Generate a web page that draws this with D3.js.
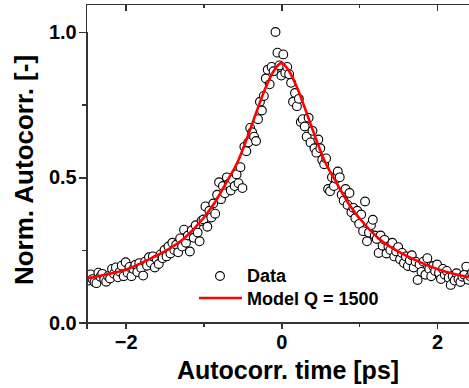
<!DOCTYPE html>
<html>
<head>
<meta charset="utf-8">
<title>Autocorrelation</title>
<script src="https://cdnjs.cloudflare.com/ajax/libs/d3/7.8.5/d3.min.js"></script>
<style>
  body { margin: 0; background: #fff; }
  svg { display: block; font-family: "Liberation Sans", Arial, sans-serif; font-weight: bold; }
  .axis path, .axis line { stroke: #333; stroke-width: 1.5px; shape-rendering: crispEdges; }
  .axis text { font-size: 20px; font-weight: bold; fill: #000; }
</style>
</head>
<body>
<script>
// measured points (time in ps, normalized autocorrelation)
var dataPoints = [
  [-2.500,0.160],[-2.475,0.145],[-2.450,0.166],[-2.425,0.150],[-2.400,0.140],
  [-2.375,0.136],[-2.350,0.172],[-2.325,0.158],[-2.300,0.168],[-2.275,0.149],
  [-2.250,0.141],[-2.225,0.160],[-2.200,0.152],[-2.175,0.185],[-2.150,0.168],
  [-2.125,0.190],[-2.100,0.156],[-2.075,0.175],[-2.050,0.196],[-2.025,0.160],
  [-2.000,0.208],[-1.975,0.172],[-1.950,0.192],[-1.925,0.160],[-1.900,0.185],
  [-1.875,0.199],[-1.850,0.174],[-1.825,0.205],[-1.800,0.188],[-1.775,0.162],
  [-1.750,0.210],[-1.725,0.196],[-1.700,0.225],[-1.675,0.205],[-1.650,0.228],
  [-1.625,0.190],[-1.600,0.218],[-1.575,0.202],[-1.550,0.235],[-1.525,0.222],
  [-1.500,0.250],[-1.475,0.228],[-1.450,0.262],[-1.425,0.238],[-1.400,0.275],
  [-1.375,0.250],[-1.350,0.268],[-1.325,0.242],[-1.300,0.290],[-1.275,0.262],
  [-1.250,0.320],[-1.225,0.275],[-1.200,0.300],[-1.175,0.245],[-1.150,0.318],
  [-1.125,0.292],[-1.100,0.335],[-1.075,0.310],[-1.050,0.280],[-1.025,0.350],
  [-1.000,0.355],[-0.975,0.400],[-0.950,0.330],[-0.925,0.385],[-0.900,0.362],
  [-0.875,0.410],[-0.850,0.375],[-0.825,0.440],[-0.800,0.483],[-0.775,0.425],
  [-0.750,0.470],[-0.725,0.445],[-0.700,0.500],[-0.675,0.478],[-0.650,0.455],
  [-0.625,0.492],[-0.600,0.470],[-0.575,0.510],[-0.550,0.480],[-0.525,0.535],
  [-0.500,0.463],[-0.475,0.605],[-0.450,0.590],[-0.425,0.620],[-0.400,0.670],
  [-0.375,0.655],[-0.350,0.640],[-0.325,0.625],[-0.300,0.700],[-0.275,0.760],
  [-0.250,0.730],[-0.225,0.780],[-0.200,0.840],[-0.175,0.870],[-0.150,0.820],
  [-0.125,0.880],[-0.100,0.865],[-0.075,1.000],[-0.050,0.929],[-0.025,0.885],
  [0.000,0.850],[0.025,0.923],[0.050,0.860],[0.075,0.880],[0.100,0.855],
  [0.125,0.825],[0.150,0.760],[0.175,0.790],[0.200,0.745],[0.225,0.770],
  [0.250,0.690],[0.275,0.700],[0.300,0.675],[0.325,0.640],[0.350,0.705],
  [0.375,0.620],[0.400,0.660],[0.425,0.600],[0.450,0.585],[0.475,0.630],
  [0.500,0.600],[0.525,0.560],[0.550,0.545],[0.575,0.565],[0.600,0.460],
  [0.625,0.452],[0.650,0.500],[0.675,0.470],[0.700,0.495],[0.725,0.520],
  [0.750,0.500],[0.775,0.440],[0.800,0.420],[0.825,0.460],[0.850,0.405],
  [0.875,0.446],[0.900,0.380],[0.925,0.395],[0.950,0.360],[0.975,0.385],
  [1.000,0.340],[1.025,0.372],[1.050,0.315],[1.075,0.417],[1.100,0.280],
  [1.125,0.310],[1.150,0.335],[1.175,0.354],[1.200,0.300],[1.225,0.288],
  [1.250,0.240],[1.275,0.300],[1.300,0.265],[1.325,0.285],[1.350,0.238],
  [1.375,0.262],[1.400,0.250],[1.425,0.275],[1.450,0.228],[1.475,0.245],
  [1.500,0.260],[1.525,0.218],[1.550,0.240],[1.575,0.205],[1.600,0.228],
  [1.625,0.195],[1.650,0.215],[1.675,0.232],[1.700,0.190],[1.725,0.210],
  [1.750,0.147],[1.775,0.200],[1.800,0.175],[1.825,0.210],[1.850,0.165],
  [1.875,0.222],[1.900,0.185],[1.925,0.160],[1.950,0.195],[1.975,0.178],
  [2.000,0.200],[2.025,0.172],[2.050,0.150],[2.075,0.185],[2.100,0.165],
  [2.125,0.178],[2.150,0.155],[2.175,0.130],[2.200,0.160],[2.225,0.145],
  [2.250,0.170],[2.275,0.150],[2.300,0.140],[2.325,0.158],[2.350,0.165],
  [2.375,0.193],[2.400,0.148],[2.425,0.160],[2.450,0.172]
];

// model curve
var modelT = [-2.5,-2.25,-2.0,-1.75,-1.5,-1.25,-1.0,-0.85,-0.7,-0.55,-0.4,-0.3,-0.2,-0.1,0,
              0.1,0.2,0.3,0.4,0.55,0.7,0.85,1.0,1.25,1.5,1.75,2.0,2.25,2.5];
var modelV = [0.153,0.166,0.182,0.212,0.245,0.29,0.36,0.415,0.485,0.56,0.665,0.74,0.81,0.865,0.893,
              0.865,0.81,0.74,0.665,0.56,0.485,0.415,0.36,0.29,0.245,0.212,0.185,0.166,0.152];

var xMajor = [-2, 0, 2], xMinor = [-1, 1];
var yMajor = [0, 0.5, 1.0], yMinor = [0.25, 0.75];
var legendLabels = ["Data", "Model Q = 1500"];

var W = 469, H = 388;
var pLeft = 86.7, pRight = 476, pTop = 4, pBottom = 322.7;

var svg = d3.select("body").append("svg")
    .attr("width", W)
    .attr("height", H);

var x = d3.scaleLinear().domain([-2.5, 2.5]).range([pLeft, pRight]);
var y = d3.scaleLinear().domain([0, 1.0]).range([pBottom, pBottom - 290.7]);

svg.append("clipPath").attr("id", "plotclip")
  .append("rect")
    .attr("x", pLeft).attr("y", pTop)
    .attr("width", pRight - pLeft).attr("height", pBottom - pTop);

var plot = svg.append("g").attr("clip-path", "url(#plotclip)");

plot.selectAll("circle.pt")
  .data(dataPoints)
  .enter().append("circle")
    .attr("class", "pt")
    .attr("cx", function(d) { return x(d[0]); })
    .attr("cy", function(d) { return y(d[1]); })
    .attr("r", 4.4)
    .attr("fill", "#fff")
    .attr("stroke", "#000")
    .attr("stroke-width", 1.1);

var line = d3.line()
    .x(function(d, i) { return x(modelT[i]); })
    .y(function(d) { return y(d); })
    .curve(d3.curveMonotoneX);

plot.append("path")
    .attr("d", line(modelV))
    .attr("fill", "none")
    .attr("stroke", "#ff0000")
    .attr("stroke-width", 2.6);

// axes
svg.append("g").attr("class", "axis")
    .attr("transform", "translate(0," + pBottom + ")")
    .call(d3.axisBottom(x).tickValues(xMajor).tickSize(6).tickPadding(6).tickFormat(d3.format("d")));
svg.append("g").attr("class", "axis")
    .attr("transform", "translate(0," + pBottom + ")")
    .call(d3.axisBottom(x).tickValues(xMinor).tickSize(4).tickFormat(""));
svg.append("g").attr("class", "axis")
    .attr("transform", "translate(0," + pTop + ")")
    .call(d3.axisTop(x).tickValues(xMajor).tickSizeInner(-7).tickSizeOuter(0).tickFormat(""));
svg.append("g").attr("class", "axis")
    .attr("transform", "translate(0," + pTop + ")")
    .call(d3.axisTop(x).tickValues(xMinor).tickSizeInner(-4).tickSizeOuter(0).tickFormat(""));

svg.append("g").attr("class", "axis")
    .attr("transform", "translate(" + pLeft + ",0)")
    .call(d3.axisLeft(y).tickValues(yMajor).tickSize(8).tickPadding(2).tickFormat(d3.format(".1f")));
svg.append("g").attr("class", "axis")
    .attr("transform", "translate(" + pLeft + ",0)")
    .call(d3.axisLeft(y).tickValues(yMinor).tickSize(5).tickFormat(""));
// left spine spans the whole frame height
svg.append("line")
    .attr("x1", pLeft).attr("x2", pLeft).attr("y1", pTop).attr("y2", pBottom)
    .attr("stroke", "#333").attr("stroke-width", 1.5).attr("shape-rendering", "crispEdges");

// axis titles
svg.append("text")
    .attr("x", 288).attr("y", 379)
    .attr("text-anchor", "middle")
    .attr("font-size", 25)
    .text("Autocorr. time [ps]");

svg.append("text")
    .attr("transform", "translate(33,170) rotate(-90)")
    .attr("text-anchor", "middle")
    .attr("font-size", 26)
    .text("Norm. Autocorr. [-]");

// legend
var lg = svg.append("g");
lg.append("circle")
    .attr("cx", 220).attr("cy", 276).attr("r", 4.4)
    .attr("fill", "#fff").attr("stroke", "#000").attr("stroke-width", 1.1);
lg.append("line")
    .attr("x1", 199).attr("x2", 242).attr("y1", 298).attr("y2", 298)
    .attr("stroke", "#ff0000").attr("stroke-width", 2.6);
lg.selectAll("text.lab")
  .data(legendLabels)
  .enter().append("text")
    .attr("class", "lab")
    .attr("x", 247)
    .attr("y", function(d, i) { return 282 + i * 23; })
    .attr("font-size", 18)
    .text(function(d) { return d; });
</script>
</body>
</html>
